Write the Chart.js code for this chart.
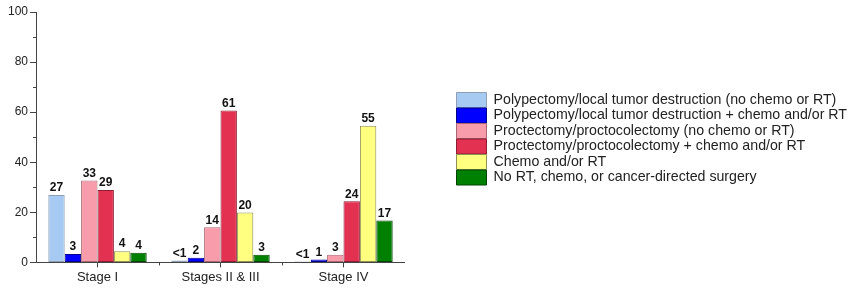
<!DOCTYPE html>
<html>
<head>
<meta charset="utf-8">
<script src="https://cdn.jsdelivr.net/npm/chart.js@4.4.0/dist/chart.umd.min.js"></script>
<style>
  html, body { margin: 0; padding: 0; background: #fff; }
</style>
</head>
<body>
<canvas id="chart" width="865" height="291"></canvas>
<script>
const stages = ['Stage I', 'Stages II & III', 'Stage IV'];

const polyOnly = [26.9, 0.8, 0.4];
const polyChemo = [3.4, 1.9, 1.2];
const proctOnly = [32.7, 14, 3.1];
const proctChemo = [28.9, 60.7, 24.4];
const chemoRt = [4.5, 19.9, 54.6];
const noTreatment = [3.9, 3.1, 16.7];

// printed labels above bars
const polyOnlyText = ['27', '<1', '<1'];
const polyChemoText = ['3', '2', '1'];
const proctOnlyText = ['33', '14', '3'];
const proctChemoText = ['29', '61', '24'];
const chemoRtText = ['4', '20', '55'];
const noTreatmentText = ['4', '3', '17'];

const yTicks = [0, 20, 40, 60, 80, 100];
const yMinorTicks = [10, 30, 50, 70, 90];

const FONT = "'Liberation Sans', Arial, sans-serif";

function series(label, data, text, fill, border) {
    return {
        label: label,
        data: data,
        valueText: text,
        backgroundColor: fill,
        borderColor: border,
        borderWidth: 1,
        borderSkipped: false,
        barPercentage: 1.0,
        categoryPercentage: 0.8
    };
}

// value labels above each bar
const barLabels = {
    id: 'barLabels',
    afterDatasetsDraw(chart) {
        const ctx = chart.ctx;
        ctx.save();
        ctx.font = 'bold 12px ' + FONT;
        ctx.fillStyle = '#111';
        ctx.textAlign = 'center';
        ctx.textBaseline = 'bottom';
        chart.data.datasets.forEach((ds, i) => {
            chart.getDatasetMeta(i).data.forEach((bar, j) => {
                ctx.fillText(ds.valueText[j], bar.x, bar.y - 1);
            });
        });
        ctx.restore();
    }
};

// small minor ticks on both axes
const minorTicks = {
    id: 'minorTicks',
    afterDraw(chart) {
        const ctx = chart.ctx;
        const area = chart.chartArea;
        const x = chart.scales.x;
        const y = chart.scales.y;
        ctx.save();
        ctx.strokeStyle = '#444';
        ctx.lineWidth = 1;
        ctx.beginPath();
        yMinorTicks.forEach(v => {
            const py = Math.round(y.getPixelForValue(v)) + 0.5;
            ctx.moveTo(area.left - 3, py);
            ctx.lineTo(area.left, py);
        });
        for (let i = 0; i < stages.length - 1; i++) {
            const px = Math.round(x.getPixelForValue(i + 0.5)) + 0.5;
            ctx.moveTo(px, area.bottom);
            ctx.lineTo(px, area.bottom + 3);
        }
        ctx.stroke();
        ctx.restore();
    }
};

// the legend is long, let it take more than half the width
const wideLegend = {
    id: 'wideLegend',
    afterInit(chart) {
        const lg = chart.legend;
        const fit = lg.fit;
        lg.fit = function () {
            this.maxWidth = 440;
            fit.call(this);
        };
    }
};

new Chart(document.getElementById('chart'), {
    type: 'bar',
    data: {
        labels: stages,
        datasets: [
            series('Polypectomy/local tumor destruction (no chemo or RT)', polyOnly, polyOnlyText, '#a7caf2', '#8e9fb4'),
            series('Polypectomy/local tumor destruction + chemo and/or RT', polyChemo, polyChemoText, '#0000ff', '#00008a'),
            series('Proctectomy/proctocolectomy (no chemo or RT)', proctOnly, proctOnlyText, '#f89cab', '#a86672'),
            series('Proctectomy/proctocolectomy + chemo and/or RT', proctChemo, proctChemoText, '#e33152', '#8c1e33'),
            series('Chemo and/or RT', chemoRt, chemoRtText, '#ffff80', '#8f8f55'),
            series('No RT, chemo, or cancer-directed surgery', noTreatment, noTreatmentText, '#008000', '#004400')
        ]
    },
    options: {
        responsive: false,
        animation: false,
        layout: { padding: { top: 12, left: 3, right: 8, bottom: 4 } },
        plugins: {
            legend: {
                position: 'right',
                align: 'start',
                title: { display: true, text: '', font: { size: 10 }, padding: { top: 68, bottom: 0 } },
                labels: {
                    boxWidth: 30,
                    boxHeight: 15,
                    padding: 0.5,
                    color: '#222',
                    font: { size: 14.2, family: FONT }
                }
            },
            tooltip: { enabled: false }
        },
        scales: {
            x: {
                grid: { offset: false, drawOnChartArea: false, tickLength: 5, color: '#444' },
                border: { color: '#444' },
                ticks: { color: '#222', padding: 2, font: { size: 13, family: FONT } }
            },
            y: {
                min: 0,
                max: 100,
                afterBuildTicks: s => { s.ticks = yTicks.map(v => ({ value: v })); },
                grid: { drawOnChartArea: false, tickLength: 6, color: '#444' },
                border: { color: '#444' },
                ticks: { color: '#222', padding: 2, font: { size: 12, family: FONT } },
                afterFit: s => { s.width = 33; }
            },
            gap: {
                type: 'linear',
                axis: 'y',
                position: 'right',
                min: 0,
                max: 1,
                grid: { display: false },
                border: { display: false },
                ticks: { display: false },
                afterFit: s => { s.width = 51; }
            }
        }
    },
    plugins: [barLabels, minorTicks, wideLegend]
});
</script>
</body>
</html>
